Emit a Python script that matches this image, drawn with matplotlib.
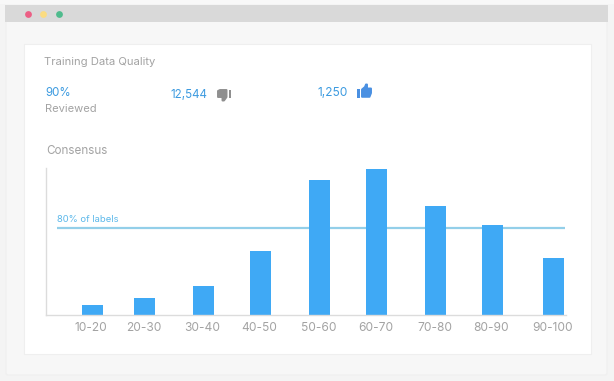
import matplotlib
matplotlib.use("Agg")
import matplotlib.pyplot as plt
from matplotlib.patches import Rectangle, Circle, Polygon, FancyBboxPatch

plt.rcParams['font.family'] = ['Inter', 'DejaVu Sans']

bins = ['10-20', '20-30', '30-40', '40-50', '50-60', '60-70', '70-80', '80-90', '90-100']
labels_pct = [9.2, 15.6, 26.7, 58.9, 124, 134, 100, 83, 52.4]
threshold = 80

W = 614
H = 381
GREY = '#a3a3a3'
BLUE_TEXT = '#3d9be0'
BAR = '#3fa9f5'

fig = plt.figure(figsize=(W / 100, H / 100), dpi=100, facecolor='#f4f4f4')

# page chrome in pixel coords
bg = fig.add_axes([0, 0, 1, 1])
bg.set_xlim(0, W)
bg.set_ylim(H, 0)
bg.axis('off')
bg.add_patch(Rectangle((0, 0), W, 4, fc='#f8f8f8', ec='none'))
bg.add_patch(FancyBboxPatch((6, 6), 601, 369, boxstyle='round,pad=0,rounding_size=2', fc='#f7f7f7', ec='#f0f0f0', lw=1))
bg.add_patch(Rectangle((5, 5), 603, 17, fc='#d9d9d9', ec='none'))
for cx, col in zip([28.5, 43.5, 59.5], ['#ec5f85', '#fbdc82', '#4fbb8d']):
    bg.add_patch(Circle((cx, 14.5), 3.4, fc=col, ec='none'))
bg.add_patch(Rectangle((24, 43.5), 567, 310.5, fc='white', ec='#efefef', lw=0.8))

bg.text(44, 62, 'Training Data Quality', color=GREY, fontsize=8.1, va='center')
bg.text(45, 93, '90%', color=BLUE_TEXT, fontsize=8.3, va='center')
bg.text(45, 109, 'Reviewed', color=GREY, fontsize=8, va='center')
bg.text(170, 95, '12,544', color=BLUE_TEXT, fontsize=8.4, va='center')
bg.text(318, 93, '1,250', color=BLUE_TEXT, fontsize=8.6, va='center')
bg.text(46, 151, 'Consensus', color=GREY, fontsize=8.4, va='center')

# thumbs
bg.add_patch(Rectangle((228.5, 89.5), 2.8, 8.5, fc='#8f8f8f', ec='none'))
bg.add_patch(Polygon([(218, 91), (220, 90), (226.5, 90), (226.5, 97), (224, 100.5), (222.5, 100.5), (222.5, 97), (218, 97)],
                     fc='#8f8f8f', ec='#8f8f8f', lw=1.4, joinstyle='round'))
bg.add_patch(Rectangle((357, 89), 3, 8.5, fc='#4a90e2', ec='none'))
bg.add_patch(Polygon([(362, 89.5), (365, 87), (366, 84.5), (367, 84.5), (367, 88.5), (371, 88.5), (371, 93), (369.5, 96.8), (362, 96.8)],
                     fc='#4a90e2', ec='#4a90e2', lw=1.4, joinstyle='round'))

# chart, one step on the x scale is one bin
ax_l, ax_r, ax_t, ax_b = 46, 566, 168, 315
ax = fig.add_axes([ax_l / W, 1 - ax_b / H, (ax_r - ax_l) / W, (ax_b - ax_t) / H])
ax.patch.set_alpha(0)
ax.set_ylim(0, 135)
step = 57.6
ax.set_xlim(-(92.5 - ax_l) / step, (ax_r - 92.5) / step)

# bins sit a little unevenly in the reference
nudge = [0, -0.09, -0.07, -0.08, -0.06, -0.07, -0.04, -0.06, 0]
pos = [i + n for i, n in enumerate(nudge)]

ax.hlines(threshold, (57 - 92.5) / step, (565 - 92.5) / step, color='#93cfe9', lw=1.6, zorder=1)
ax.bar(pos, labels_pct, width=21 / step, color=BAR, zorder=2)
ax.text((57 - 92.5) / step, threshold + 3.8, '80% of labels', color='#5cb8ea', fontsize=6.8, va='bottom', ha='left')

for s in ['top', 'right']:
    ax.spines[s].set_visible(False)
for s in ['left', 'bottom']:
    ax.spines[s].set_color('#dcdcdc')
    ax.spines[s].set_linewidth(1)
ax.set_yticks([])
ax.set_xticks([p - 0.02 for p in pos])
ax.set_xticklabels(bins, color=GREY, fontsize=8.6)
ax.tick_params(axis='x', length=0, pad=5)

fig.savefig('out.png', dpi=100, facecolor=fig.get_facecolor())
